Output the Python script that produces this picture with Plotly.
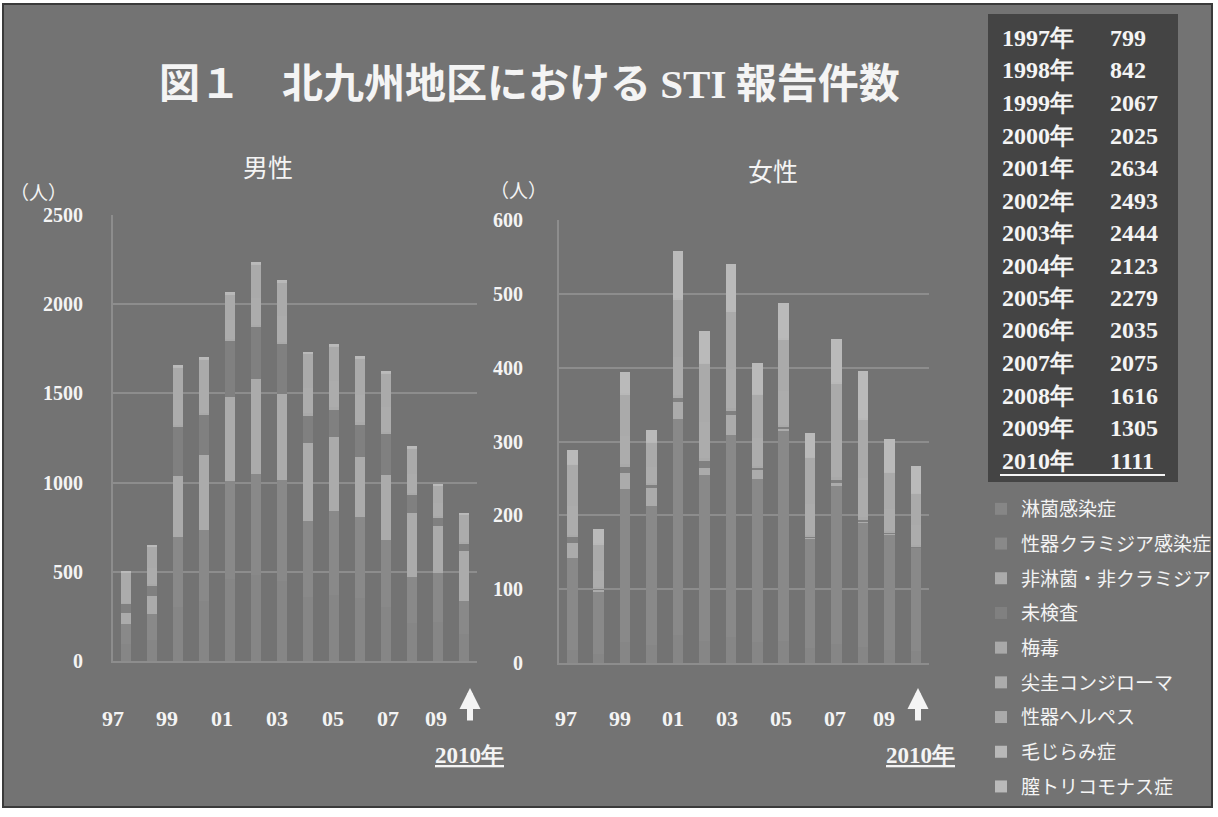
import plotly.graph_objects as go

W, H = 1218, 817

years = [1997, 1998, 1999, 2000, 2001, 2002, 2003, 2004, 2005, 2006, 2007, 2008, 2009, 2010]
diseases = ["淋菌感染症", "性器クラミジア感染症", "非淋菌・非クラミジア", "未検査", "梅毒",
            "尖圭コンジローマ", "性器ヘルペス", "毛じらみ症", "膣トリコモナス症"]

# male counts per disease (人)
male_gonorrhea = [95, 118, 305, 338, 460, 480, 450, 360, 372, 355, 300, 215, 220, 150]
male_chlamydia = [111, 148, 388, 396, 551, 569, 565, 427, 467, 450, 378, 257, 276, 187]
male_ngnc = [65, 99, 346, 418, 468, 534, 479, 434, 416, 337, 367, 356, 262, 281]
male_untested = [49, 60, 272, 228, 315, 289, 285, 155, 153, 182, 228, 105, 47, 41]
male_syphilis = [6, 8, 12, 10, 9, 12, 11, 12, 14, 13, 12, 9, 7, 6]
male_condyloma = [72, 90, 140, 128, 110, 148, 146, 142, 150, 156, 140, 108, 72, 68]
male_herpes = [96, 116, 182, 170, 144, 188, 188, 191, 190, 202, 185, 143, 97, 90]
male_lice = [4, 5, 8, 8, 6, 8, 7, 8, 8, 9, 7, 6, 4, 3]
male_trich = [2, 2, 4, 4, 3, 4, 4, 3, 4, 4, 3, 3, 2, 2]

# female counts per disease (人)
female_gonorrhea = [18, 12, 28, 25, 38, 30, 35, 28, 30, 20, 26, 22, 18, 16]
female_chlamydia = [124, 84, 208, 187, 293, 224, 274, 221, 285, 148, 214, 168, 156, 140]
female_ngnc = [21, 3, 22, 25, 23, 10, 27, 12, 2, 2, 4, 2, 1, 1]
female_untested = [7, 2, 8, 5, 5, 9, 5, 3, 2, 1, 4, 2, 1, 1]
female_syphilis = [3, 2, 4, 2, 4, 4, 5, 3, 4, 3, 4, 4, 3, 2]
female_condyloma = [40, 22, 38, 22, 52, 50, 52, 38, 46, 42, 50, 52, 30, 27]
female_herpes = [56, 36, 56, 32, 77, 79, 78, 58, 69, 62, 77, 80, 49, 42]
female_lice = [1, 1, 2, 1, 2, 1, 2, 1, 2, 1, 2, 2, 1, 1]
female_trich = [19, 20, 28, 16, 64, 43, 63, 42, 48, 32, 58, 63, 45, 37]

# yearly totals shown in the summary table
table_years = ["1997年", "1998年", "1999年", "2000年", "2001年", "2002年", "2003年",
               "2004年", "2005年", "2006年", "2007年", "2008年", "2009年", "2010年"]
table_totals = [799, 842, 2067, 2025, 2634, 2493, 2444, 2123, 2279, 2035, 2075, 1616, 1305, 1111]

# short year labels under each panel
x_labels = ["97", "99", "01", "03", "05", "07", "09"]

male_series = [male_gonorrhea, male_chlamydia, male_ngnc, male_untested, male_syphilis,
               male_condyloma, male_herpes, male_lice, male_trich]
female_series = [female_gonorrhea, female_chlamydia, female_ngnc, female_untested, female_syphilis,
                 female_condyloma, female_herpes, female_lice, female_trich]

colors = ["#868686", "#898989", "#ababab", "#808080", "#a9a9a9",
          "#acacac", "#aaaaaa", "#b8b8b8", "#bababa"]

BG = "#737373"
GRID = "#8d8d8d"
TXT = "#f4f4f4"
SERIF = "Liberation Serif"
SANS = "Noto Sans CJK JP"

cats = [str(y) for y in years]

fig = go.Figure()
for i, name in enumerate(diseases):
    fig.add_trace(go.Bar(x=cats, y=male_series[i], name=name, marker_color=colors[i],
                         marker_line_width=0, legendgroup=name, showlegend=True,
                         xaxis="x", yaxis="y"))
for i, name in enumerate(diseases):
    fig.add_trace(go.Bar(x=cats, y=female_series[i], name=name, marker_color=colors[i],
                         marker_line_width=0, legendgroup=name, showlegend=False,
                         xaxis="x2", yaxis="y2"))


def px(x):
    return x / W


def py(y):
    return 1 - y / H


axis_common = dict(showgrid=False, showline=True, linecolor=GRID, linewidth=2,
                   ticks="", zeroline=False)

fig.update_layout(
    width=W, height=H,
    margin=dict(l=0, r=0, t=0, b=0, autoexpand=False),
    paper_bgcolor="white",
    plot_bgcolor="rgba(0,0,0,0)",
    barmode="stack",
    bargap=0.6,
    showlegend=True,
    legend=dict(x=px(981), y=py(490), xanchor="left", yanchor="top",
                traceorder="grouped", tracegroupgap=7,
                font=dict(family=SANS, size=19, color=TXT),
                bgcolor="rgba(0,0,0,0)"),
    xaxis=dict(domain=[px(113), px(477)], anchor="y", showticklabels=False,
               type="category", **axis_common),
    yaxis=dict(domain=[py(661), py(215)], anchor="x", range=[0, 2500],
               tickvals=[0, 500, 1000, 1500, 2000, 2500],
               showgrid=True, gridcolor=GRID, gridwidth=2,
               showline=True, linecolor=GRID, linewidth=2, zeroline=False,
               ticklabelstandoff=24,
               tickfont=dict(family=SERIF, size=20, color=TXT, weight="bold")),
    xaxis2=dict(domain=[px(559), px(929)], anchor="y2", showticklabels=False,
                type="category", **axis_common),
    yaxis2=dict(domain=[py(663), py(220)], anchor="x2", range=[0, 600],
                tickvals=[0, 100, 200, 300, 400, 500, 600],
                showgrid=True, gridcolor=GRID, gridwidth=2,
                showline=True, linecolor=GRID, linewidth=2, zeroline=False,
                ticklabelstandoff=30,
                tickfont=dict(family=SERIF, size=20, color=TXT, weight="bold")),
)

shapes = [
    # chart background panel
    dict(type="rect", xref="paper", yref="paper", x0=px(3), x1=px(1212), y0=py(807), y1=py(4),
         fillcolor=BG, line=dict(color="#3a3a3a", width=2), layer="below"),
    # summary table box
    dict(type="rect", xref="paper", yref="paper", x0=px(988), x1=px(1178), y0=py(482), y1=py(14),
         fillcolor="#444444", line=dict(width=0), layer="below"),
    # underline for the last table row
    dict(type="line", xref="paper", yref="paper", x0=px(1000), x1=px(1165), y0=py(475), y1=py(475),
         line=dict(color=TXT, width=2)),
]
fig.update_layout(shapes=shapes)

ann = []


def add_text(text, x, y, size, family=SANS, weight="normal", xanchor="center", color=TXT):
    ann.append(dict(text=text, x=px(x), y=py(y), xref="paper", yref="paper",
                    xanchor=xanchor, yanchor="middle", showarrow=False,
                    font=dict(family=family, size=size, color=color, weight=weight)))


add_text("図１　北九州地区における <span style='font-family:Liberation Serif'>STI</span> 報告件数",
         529, 80, 41, weight="bold")
add_text("男性", 268, 166, 25)
add_text("女性", 773, 170, 25)
add_text("（人）", 38, 191, 19)
add_text("（人）", 518, 189, 19)

male_label_x = [113, 167, 222, 277, 333, 388, 436]
female_label_x = [566, 620, 673, 727, 781, 835, 884]
for lab, x in zip(x_labels, male_label_x):
    add_text(lab, x, 718, 22, family=SERIF, weight="bold")
for lab, x in zip(x_labels, female_label_x):
    add_text(lab, x, 718, 22, family=SERIF, weight="bold")

# arrows pointing at the 2010 bars
for x in (470, 918):
    ann.append(dict(text="", x=px(x), y=py(688), xref="paper", yref="paper",
                    axref="pixel", ayref="pixel", ax=0, ay=34,
                    showarrow=True, arrowhead=2, arrowsize=0.7, arrowwidth=6,
                    arrowcolor="#f4f4f4"))
add_text("<u>2010年</u>", 470, 755, 23, family=SERIF, weight="bold")
add_text("<u>2010年</u>", 920, 755, 23, family=SERIF, weight="bold")

for i, (yl, tot) in enumerate(zip(table_years, table_totals)):
    yy = 38 + i * 32.5
    add_text(yl, 1000, yy, 24, family=SERIF, weight="bold", xanchor="left")
    add_text(str(tot), 1108, yy, 24, family=SERIF, weight="bold", xanchor="left")

fig.update_layout(annotations=ann)

fig.write_html("out.html")
